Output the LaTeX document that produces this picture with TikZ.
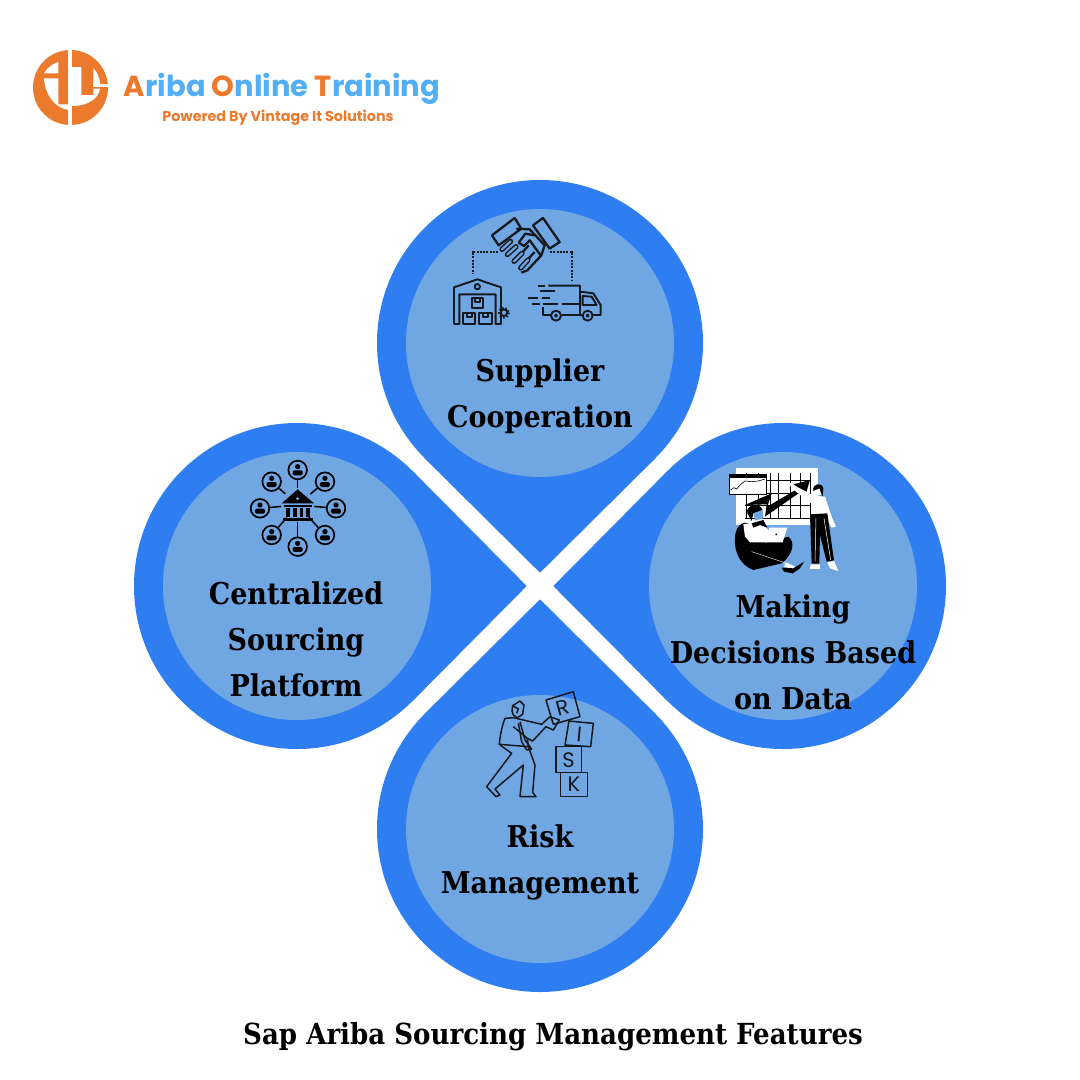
\documentclass[tikz,border=0pt]{standalone}
\usepackage{fontspec}
\setmainfont{DejaVu Serif Condensed}
\newfontfamily\logofont{Poppins}
\usetikzlibrary{positioning}
\definecolor{ringblue}{HTML}{2E7EF2}
\definecolor{discblue}{HTML}{70A7E3}
\definecolor{logoorange}{HTML}{EC7A2D}
\definecolor{logoblue}{HTML}{52AEF5}
\definecolor{inkblack}{HTML}{14181F}

\begin{document}
\begin{tikzpicture}[x=1pt,y=-1pt,
	petal/.pic={\fill[ringblue] (0,-13.3) -- (115.3,-127.7) -- (-115.3,-127.7) -- cycle;
		\fill[ringblue] (0,-243) circle (163);},
	disc/.style={circle,fill=discblue,minimum size=268pt,inner sep=0pt},
	label/.style={align=center,font=\fontsize{30}{46}\selectfont\bfseries,text=black},
	icon/.style={draw=inkblack,line width=1.9pt,line join=round},
	thin icon/.style={draw=inkblack,line width=1.5pt,line join=round},
	dots/.style={draw=inkblack,line width=2pt,dash pattern=on 2pt off 1.3pt},
	user/.style={circle,draw=black,line width=1.7pt,minimum size=18.6pt,inner sep=0pt},
	letter/.style={font=\logofont\fontsize{21}{21}\selectfont,text=inkblack,inner sep=0pt}]

	\useasboundingbox (0,0) rectangle (1080,1080);
	\fill[white] (0,0) rectangle (1080,1080);

	% logo
	\fill[logoorange] (70.5,87.5) circle (37.5);
	\fill[white] (68,48) rectangle (72,127);
	\fill[white] (44,73.3) .. controls (47,68) and (52,64) .. (58.3,62) -- (58.3,73.3) -- cycle;
	\fill[white] (44,78.3) -- (58.3,78.3) -- (58.3,104.3) -- (68.3,104.3) -- (68.3,110) .. controls (55,108) and (45,95) .. cycle;
	\fill[white] (72,67) -- (81.3,67) -- (81.3,95) -- (93.3,95) -- (93.3,88.5) -- (100,88.5) .. controls (99,97) and (90,106) .. (72,106) -- cycle;
	\fill[white] (93.3,68) .. controls (97,72) and (100,78) .. (100,84) -- (93.3,84) -- cycle;
	\fill[white] (93.3,84) rectangle (108.5,86.6);
	\node[font=\logofont\bfseries\fontsize{29}{29}\selectfont,text=logoblue,inner sep=0pt] (brand) at (282,89)
		{\textcolor{logoorange}{A}riba \textcolor{logoorange}{O}nline \textcolor{logoorange}{T}raining};
	\node[font=\logofont\bfseries\fontsize{14.3}{15}\selectfont,text=logoorange,inner sep=0pt] (slogan) at (278,118)
		{Powered By Vintage It Solutions};

	% petals
	\foreach \turn in {0,90,180,270}
		\pic[rotate=\turn] at (540,586) {petal};
	\node[disc] (topdisc) at (540,343) {};
	\node[disc] (leftdisc) at (297,586) {};
	\node[disc] (rightdisc) at (783,586) {};
	\node[disc] (bottomdisc) at (540,829) {};

	% supplier icon
	\begin{scope}[shift={(430,200)},x=0.3333pt,y=-0.3333pt]
		\draw[dots] (205,155) -- (130,155) -- (130,222);
		\draw[dots] (360,155) -- (425,155) -- (425,242);
		\draw[icon] (72,372) -- (72,262) -- (142,238) -- (213,262) -- (213,372) -- (197,372) -- (197,283) -- (88,283) -- (88,372) -- cycle;
		\draw[icon] (142,260) circle (8);
		\draw[icon,fill=discblue] (125,293) rectangle (160,325);
		\draw[icon] (100,340) rectangle (135,372) (148,340) rectangle (185,372);
		\draw[icon] (134,293) -- (134,305) -- (150,305) -- (150,293) (110,340) -- (110,352) -- (125,352) -- (125,340) (158,340) -- (158,352) -- (174,352) -- (174,340);
		\draw[icon,fill=discblue] (222,338) circle (10);
		\draw[icon,dash pattern=on 1.5pt off 2pt] (222,338) circle (15);
		\draw[icon] (355,257) -- (450,257) -- (450,345) (450,275) -- (490,280) -- (512,315) -- (512,345) -- (490,345);
		\draw[icon] (340,320) -- (340,345) -- (362,345) (395,345) -- (458,345);
		\draw[icon] (378,347) circle (15) (473,347) circle (15);
		\draw[icon] (378,347) circle (3) (473,347) circle (3);
		\draw[icon] (458,288) -- (485,290) -- (500,315) -- (458,315) -- cycle;
		\draw[icon] (325,257) -- (345,257) (330,273) -- (375,273) (295,293) -- (325,293) (335,293) -- (360,293) (305,312) -- (330,312) (340,312) -- (385,312) (395,312) -- (450,312);
	\end{scope}

	% handshake
	\begin{scope}[shift={(488,212)},x=0.3333pt,y=-0.3333pt]
		\draw[icon,line width=2.3pt] (12,70) -- (80,18) -- (100,50) -- (32,100) -- cycle;
		\draw[icon,line width=2.3pt] (135,40) -- (165,18) -- (215,90) -- (185,110) -- cycle;
		\draw[icon,line width=2.3pt] (85,50) -- (125,52) -- (170,100) -- (160,130) -- (118,175) -- (100,182);
		\draw[icon,line width=2.3pt] (92,92) -- (112,65) -- (140,70);
		\draw[icon,line width=2.3pt] (92,92) -- (108,102) -- (125,85) -- (158,130);
		\draw[icon,line width=2.3pt] (140,120) -- (112,150) (122,100) -- (95,130);
		\foreach \ax/\ay/\bx/\by in {42/112/68/88,58/128/84/104,78/148/102/124,98/168/120/144} {
			\draw[inkblack,line width=5.2pt,line cap=round] (\ax,\ay) -- (\bx,\by);
			\draw[discblue,line width=2.2pt,line cap=round] (\ax,\ay) -- (\bx,\by);
		}
	\end{scope}

	% bank icon
	\begin{scope}[shift={(230,450)},x=0.3333pt,y=-0.3333pt]
		\node[circle,minimum size=33pt,inner sep=0pt] (hub) at (203,165) {};
		\foreach \name/\px/\py in {a/203/60,b/285/95,c/318/175,d/285/255,e/203/290,f/125/255,g/90/175,h/125/95} {
			\node[user] (\name) at (\px,\py) {};
			\draw[black,line width=1.5pt] (\name) -- (hub);
			\fill[black] (\px,\py-10) circle (8);
			\fill[black,rounded corners=1.5pt] (\px-15,\py+16) rectangle (\px+15,\py+1);
		}
		\fill[black] (155,160) -- (203,118) -- (252,160) -- cycle;
		\fill[discblue] (203,146) circle (5);
		\fill[black] (162,165) rectangle (245,172);
		\foreach \px in {168,189,209,229}
			\fill[black] (\px,175) rectangle (\px+11,202);
		\fill[black] (158,203) rectangle (250,212);
	\end{scope}

	% chart icon
	\begin{scope}[shift={(710,455)},x=0.3333pt,y=-0.3333pt]
		\fill[white] (78,38) rectangle (325,210);
		\foreach \px in {110,145,180,205,240,270,300}
			\draw[black,line width=0.6pt] (\px,55) -- (\px,190);
		\foreach \py in {75,115,150,190}
			\draw[black,line width=0.6pt] (105,\py) -- (300,\py);
		\fill[white] (58,58) rectangle (170,118);
		\fill[black] (58,58) rectangle (170,68);
		\draw[black,line width=0.4pt] (58,58) rectangle (170,118);
		\draw[black,line width=0.6pt] (62,105) -- (72,98) -- (80,102) -- (92,88) -- (105,78) -- (125,80) -- (145,78) -- (165,72);
		\fill[black] (105,150) -- (185,115) -- (172,155) -- (265,100) -- (250,88) -- (300,75) -- (287,118) -- (276,108) -- (165,185) -- (170,148) -- cycle;
		% woman
		\fill[white] (235,80) -- (260,95) -- (312,122) -- (345,125) -- (365,185) -- (378,215) -- (365,218) -- (350,190) -- (352,178) -- (305,178) -- (310,150) -- (245,100) -- cycle;
		\fill[white] (325,108) circle (13);
		\fill[black] (310,108) .. controls (305,85) and (335,80) .. (340,100) -- (338,125) -- (328,100) -- cycle;
		\fill[black] (300,178) -- (352,175) -- (372,316) -- (350,320) -- (330,240) -- (328,326) -- (305,326) -- cycle;
		\draw[white,line width=0.5pt] (318,190) -- (315,320) (342,190) -- (362,315);
		\fill[white] (302,328) -- (330,328) -- (330,342) -- (300,342) -- cycle;
		\fill[white] (352,322) -- (372,318) -- (385,348) -- (360,340) -- cycle;
		% man
		\fill[black] (75,250) .. controls (75,205) and (110,190) .. (130,215) -- (170,262) -- (235,245) .. controls (255,260) and (252,295) .. (215,325) -- (130,345) .. controls (90,330) and (72,290) .. cycle;
		\fill[white] (100,208) -- (150,198) -- (178,228) -- (170,262) -- (120,262) -- (105,245) -- cycle;
		\fill[black] (125,205) -- (160,195) -- (172,218) -- (150,210) -- (130,218) -- cycle;
		\fill[black] (112,175) .. controls (105,150) and (150,140) .. (158,165) -- (130,175) -- (125,198) -- cycle;
		\fill[discblue] (130,175) -- (158,165) -- (160,190) -- (135,197) -- cycle;
		\fill[white] (178,218) -- (232,218) -- (218,262) -- (165,262) -- cycle;
		\fill[black] (199,238) circle (3);
		\draw[white,line width=0.4pt] (125,290) -- (230,325);
		\fill[white] (228,322) -- (255,335) -- (248,342) -- (222,335) -- cycle;
		\fill[black] (215,338) -- (250,340) -- (282,320) -- (270,340) -- (248,355) -- (222,350) -- cycle;
	\end{scope}

	% risk icon
	\begin{scope}[shift={(470,685)},x=0.3333pt,y=-0.3333pt]
		\draw[thin icon] (228,45) -- (310,20) -- (330,95) -- (250,118) -- cycle;
		\draw[thin icon] (297,108) -- (370,115) -- (362,185) -- (285,180) -- cycle;
		\draw[thin icon] (258,185) rectangle (335,262);
		\draw[thin icon] (272,262) rectangle (352,335);
		\node[letter,rotate=15] (letterr) at (278,68) {R};
		\node[letter,rotate=-5] (letteri) at (328,147) {I};
		\node[letter] (letters) at (296,224) {S};
		\node[letter] (letterk) at (312,299) {K};
		% head
		\draw[thin icon] (128,62) -- (150,48) -- (162,60) -- (158,88) -- (142,98) -- (130,90) -- (126,78) -- cycle;
		\draw[thin icon] (128,62) -- (145,72) -- (140,85);
		% arms and body
		\draw[thin icon] (130,98) -- (105,100) .. controls (95,125) and (90,155) .. (88,178) -- (175,185) -- (172,160) -- (130,125);
		\draw[thin icon] (130,98) -- (215,118) -- (240,95) -- (268,105) -- (250,135) -- (228,125) -- (188,168) -- (172,160);
		\draw[thin icon] (150,110) -- (165,165) -- (185,192) -- (170,195) -- (155,170) -- (145,115);
		% legs
		\draw[thin icon] (90,180) -- (125,205) -- (50,305) -- (78,335) -- (90,330) -- (75,312) -- (160,240) -- (150,335) -- (198,335) -- (188,322) -- (195,240) -- (175,185);
	\end{scope}

	% labels
	\node[label] (supplier) at (540,396) {Supplier\\Cooperation};
	\node[label] (platform) at (296,639) {Centralized\\Sourcing\\Platform};
	\node[label] (decisions) at (793,652) {Making\\Decisions Based\\on Data};
	\node[label] (risk) at (540,862) {Risk\\Management};
	\node[font=\fontsize{29}{32}\selectfont\bfseries,text=black,inner sep=0pt] (title) at (553,1037) {Sap Ariba Sourcing Management Features};
\end{tikzpicture}
\end{document}
